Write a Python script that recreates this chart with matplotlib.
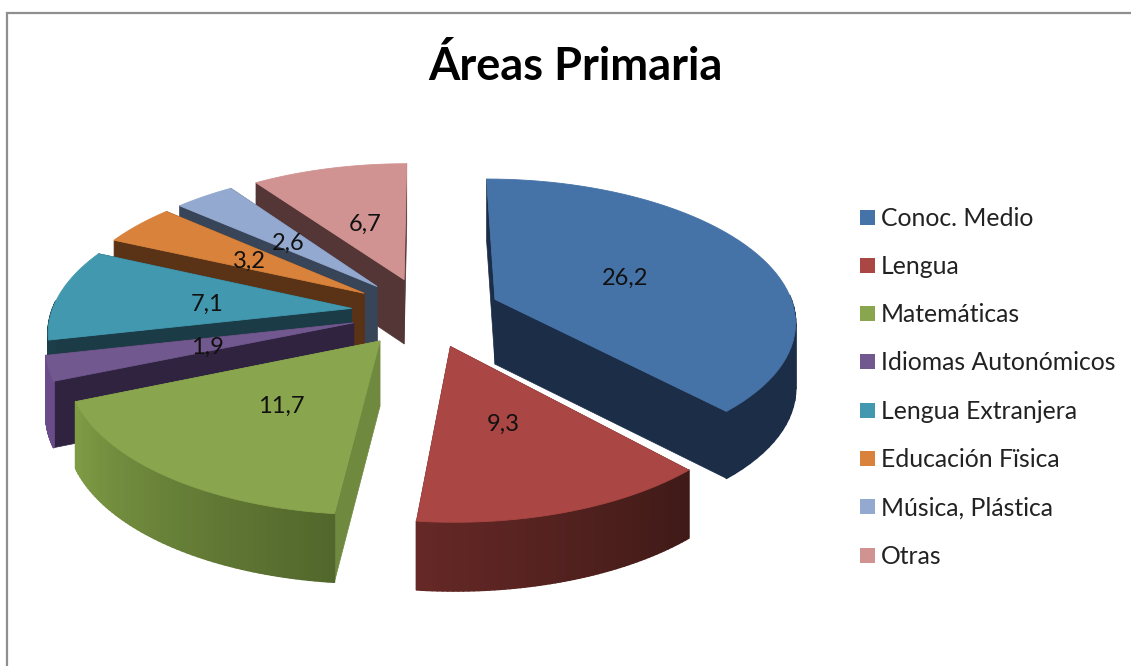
import numpy as np
import matplotlib
matplotlib.use('Agg')
import matplotlib.pyplot as plt
from matplotlib.collections import PolyCollection
from matplotlib.colors import to_rgb

title = 'Áreas Primaria'
areas = ['Conoc. Medio', 'Lengua', 'Matemáticas', 'Idiomas Autonómicos',
         'Lengua Extranjera', 'Educación Fïsica', 'Música, Plástica', 'Otras']
valores = [26.2, 9.3, 11.7, 1.9, 7.1, 3.2, 2.6, 6.7]
etiquetas = ['26,2', '9,3', '11,7', '1,9', '7,1', '3,2', '2,6', '6,7']

col_top = ['#4572a7', '#aa4643', '#89a54e', '#71588f', '#4198af', '#d9823b', '#93a9cf', '#d19392']
col_cara = ['#1b2d47', '#471b19', '#6f8a3f', '#30233f', '#1b3c47', '#5a3316', '#384458', '#543637']
col_rim0 = ['#1b2d47', '#3f1a17', '#52672c', '#6a4c8a', '#1b3e4a', '#5a3316', '#384458', '#543637']
col_rim1 = ['#1b2d47', '#652826', '#7f9c45', '#6a4c8a', '#1b3e4a', '#5a3316', '#384458', '#543637']

# camera of the fake 3d pie, in pixels
cx, cy = 426, 312
ax_x, ax_y = 300, 140.5
persp = 0.14
expl = 0.25
inicio = 90


def proy(u, v):
    d = 1 + persp * v
    return cx + ax_x * u / d, cy - ax_y * v / d


def fondo(v):
    return 65 - 3 * v


fig = plt.figure(figsize=(11.31, 6.66), dpi=100)
ax = fig.add_axes([0, 0, 1, 1])
ax.set_xlim(0, 1131)
ax.set_ylim(666, 0)
ax.axis('off')

# chart frame, only left and top are in the crop
ax.plot([7, 7, 1131], [666, 13, 13], color='#8f8f8f', lw=1.6, solid_joinstyle='miter')

total = sum(valores)
spans = [v / total * 360 for v in valores]
a_ini = inicio - np.concatenate([[0], np.cumsum(spans)[:-1]])
a_fin = a_ini - np.array(spans)
medios = np.radians((a_ini + a_fin) / 2)

# back slices first, the front ones cover them
orden = [7, 6, 5, 4, 3, 0, 1, 2]
z = 2
for i in orden:
    ox = expl * np.cos(medios[i])
    oy = expl * np.sin(medios[i])
    t = np.radians(np.linspace(a_ini[i], a_fin[i], 60))
    U = ox + np.cos(t)
    V = oy + np.sin(t)
    x, y = proy(U, V)
    ap_x, ap_y = proy(ox, oy)
    dp = fondo(V)
    dp_ap = fondo(oy)

    # cut faces
    caras = [[(ap_x, ap_y), (x[0], y[0]), (x[0], y[0] + dp[0]), (ap_x, ap_y + dp_ap)],
             [(ap_x, ap_y), (x[-1], y[-1]), (x[-1], y[-1] + dp[-1]), (ap_x, ap_y + dp_ap)]]
    ax.add_collection(PolyCollection(caras, facecolors=col_cara[i], edgecolors='face', lw=0.5, zorder=z))

    # outer side with its gradient, only the part that faces us
    c0 = np.array(to_rgb(col_rim0[i]))
    c1 = np.array(to_rgb(col_rim1[i]))
    quads = []
    colores = []
    for k in range(len(t) - 1):
        if np.sin(t[k]) > 0.05:
            continue
        quads.append([(x[k], y[k]), (x[k + 1], y[k + 1]),
                      (x[k + 1], y[k + 1] + dp[k + 1]), (x[k], y[k] + dp[k])])
        colores.append(c0 + (c1 - c0) * k / (len(t) - 2))
    if quads:
        ax.add_collection(PolyCollection(quads, facecolors=colores, edgecolors='face', lw=1.2, zorder=z))

    # top
    ax.fill(np.r_[ap_x, x], np.r_[ap_y, y], facecolor=col_top[i], edgecolor=col_top[i], lw=0.6, zorder=z + 1)
    z += 2

# value labels
for i in range(len(valores)):
    r = 0.49
    lx, ly = proy((expl + r) * np.cos(medios[i]), (expl + r) * np.sin(medios[i]))
    ax.text(lx, ly + 3, etiquetas[i], fontsize=17, family='Lato', color='#111111',
            ha='center', va='center', zorder=40)

# legend
ley_y = np.linspace(217, 555, len(areas))
for i in range(len(areas)):
    ax.add_patch(plt.Rectangle((860, ley_y[i] - 7.5), 14.5, 15, color=col_top[i], lw=0))
    ax.text(881, ley_y[i] + 1, areas[i], fontsize=17.8, family='Lato', color='#222222',
            ha='left', va='center')

ax.text(575.5, 66, title, fontsize=32.5, family='Lato', weight='bold', color='black',
        ha='center', va='center')

fig.savefig('out.png', dpi=100)
